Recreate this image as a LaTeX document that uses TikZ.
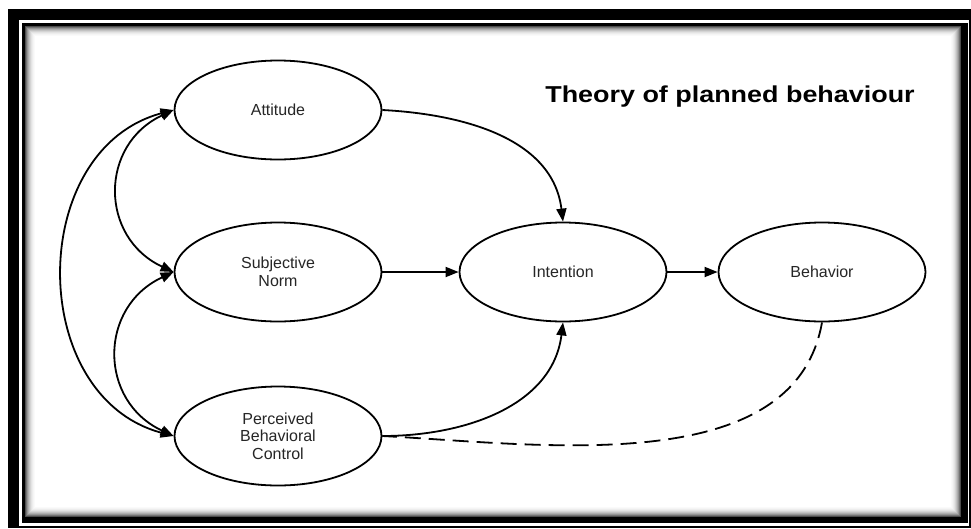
\documentclass[tikz,border=0pt]{standalone}
\usepackage{fontspec}
\setmainfont{Liberation Sans}
\usetikzlibrary{shapes.geometric,arrows.meta}
\tikzset{
  construct/.style={ellipse, draw, line width=1.8pt, fill=white, minimum width=207pt, minimum height=99pt, inner sep=0pt, align=center, font=\fontsize{16}{17.5}\selectfont, text=black!85},
  arr/.style={line width=1.8pt, -{Triangle[length=13pt,width=10pt]}},
  biarr/.style={line width=1.8pt, {Triangle[length=13pt,width=10pt]}-{Triangle[length=13pt,width=10pt]}},
  feedback/.style={line width=1.8pt, dash pattern=on 16pt off 8pt},
}

\begin{document}
\begin{tikzpicture}[x=1pt,y=-1pt]
\useasboundingbox (0,0) rectangle (971,528);
% Drawing frame
\fill[black] (8,9) rectangle (971,528);
\fill[white] (19,20) rectangle (968.5,525.5);
\fill[black] (22,23) rectangle (968,523);
\foreach \i/\c in {0/70,1/55,2/42,3/32,4/24,5/17,6/11,7/7,8/4,9/2}
  \fill[black!\c] (25+\i,26+\i) rectangle (961-\i,517-\i);
\fill[white] (35,36) rectangle (951,507);
% Done with frame; drawing constructs
\node[construct] (att) at (278,110) {Attitude};
\node[construct] (sn) at (278,272) {Subjective\\Norm};
\node[construct] (pbc) at (278,436) {Perceived\\Behavioral\\Control};
\node[construct] (int) at (563,272) {Intention};
\node[construct] (beh) at (822,272) {Behavior};
\node[font=\bfseries\fontsize{23}{28}\selectfont] (title) at (730,97) {\scalebox{1.17}[1]{Theory of planned behaviour}};
% Done with constructs; drawing paths
\draw[arr] (att.east) to[out=-3, in=97] (int.north);
\draw[arr] (sn.east) -- (int.west);
\draw[arr] (pbc.east) to[out=0, in=-97] (int.south);
\draw[arr] (int.east) -- (beh.west);
\draw[feedback] (beh.south) to[out=-100, in=-3, looseness=0.9] (pbc.east);
% Correlations on the left
\draw[biarr] (att.west) to[out=205, in=155, looseness=1.3] (sn.west);
\draw[biarr] (sn.west) to[out=205, in=155, looseness=1.3] (pbc.west);
\draw[biarr] (att.west) to[out=195, in=165, looseness=1.2] (pbc.west);
% Done with paths
\end{tikzpicture}
\end{document}
